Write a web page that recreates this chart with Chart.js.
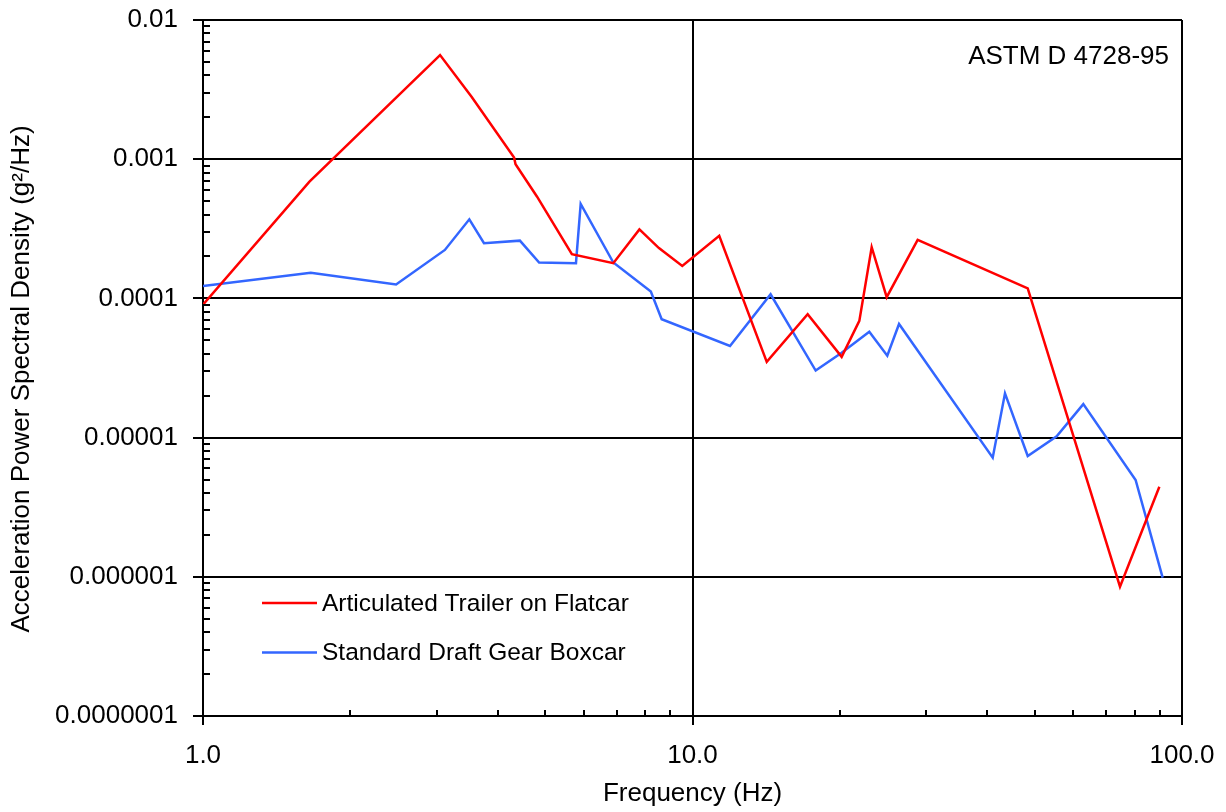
<!DOCTYPE html>
<html>
<head>
<meta charset="utf-8">
<script src="https://cdn.jsdelivr.net/npm/chart.js@4.4.0/dist/chart.umd.min.js"></script>
<style>
  html, body { margin: 0; padding: 0; background: #ffffff; }
  #wrap { width: 1226px; height: 812px; position: relative; }
</style>
</head>
<body>
<div id="wrap"><canvas id="c" width="1226" height="812"></canvas></div>
<script>
// ---- Data ----
const trailerFreq = [1.0, 1.65, 3.05, 3.54, 4.32, 4.35, 4.81, 5.67, 6.89, 7.79, 8.54, 9.53, 11.34, 14.18, 17.19, 20.17, 21.92, 23.23, 24.93, 28.84, 48.4, 74.7, 89.9];
const trailerPSD  = [9.0e-5, 6.9e-4, 5.6e-3, 2.8e-3, 1.03e-3, 9.2e-4, 5.4e-4, 2.08e-4, 1.79e-4, 3.13e-4, 2.3e-4, 1.71e-4, 2.82e-4, 3.5e-5, 7.7e-5, 3.8e-5, 6.9e-5, 2.33e-4, 1.02e-4, 2.63e-4, 1.18e-4, 8.5e-7, 4.44e-6];

const boxcarFreq = [1.0, 1.66, 2.48, 3.12, 3.50, 3.75, 4.44, 4.86, 5.78, 5.91, 6.89, 8.22, 8.65, 11.93, 14.44, 17.85, 20.17, 22.97, 25.0, 26.42, 41.05, 43.49, 48.4, 55.46, 62.86, 80.4, 91.3];
const boxcarPSD  = [1.23e-4, 1.53e-4, 1.26e-4, 2.23e-4, 3.70e-4, 2.49e-4, 2.60e-4, 1.81e-4, 1.79e-4, 4.77e-4, 1.81e-4, 1.12e-4, 7.08e-5, 4.55e-5, 1.07e-4, 3.03e-5, 4.07e-5, 5.77e-5, 3.88e-5, 6.55e-5, 7.18e-6, 2.08e-5, 7.38e-6, 1.02e-5, 1.74e-5, 4.96e-6, 9.86e-7];

const seriesNames = ['Articulated Trailer on Flatcar', 'Standard Draft Gear Boxcar'];

const xTickValues = [1, 10, 100];
const xTickLabels = ['1.0', '10.0', '100.0'];
const yTickValues = [1e-7, 1e-6, 1e-5, 1e-4, 1e-3, 1e-2];
const yTickLabels = ['0.0000001', '0.000001', '0.00001', '0.0001', '0.001', '0.01'];

const xTitle = 'Frequency (Hz)';
const yTitle = 'Acceleration Power Spectral Density (g\u00B2/Hz)';
const noteText = 'ASTM D 4728-95';

// ---- Styling ----
const FONT = '"Liberation Sans", Arial, sans-serif';
const FS = 26;
const FS_LEGEND = 24.5;
const RED = '#ff0000';
const BLUE = '#3366ff';

const toPoints = (xs, ys) => xs.map((x, i) => ({ x: x, y: ys[i] }));

const extras = {
  id: 'extras',
  afterDraw(chart) {
    const ctx = chart.ctx;
    const xs = chart.scales.x, ys = chart.scales.y;
    const ca = chart.chartArea;
    ctx.save();
    ctx.strokeStyle = '#000';
    ctx.lineWidth = 2;
    // minor ticks on y axis (inside)
    for (let e = -7; e < -2; e++) {
      for (let m = 2; m <= 9; m++) {
        const py = Math.round(ys.getPixelForValue(m * Math.pow(10, e)));
        ctx.beginPath();
        ctx.moveTo(ca.left, py);
        ctx.lineTo(ca.left + 7, py);
        ctx.stroke();
      }
    }
    // minor ticks on x axis (inside)
    for (let e = 0; e < 2; e++) {
      for (let m = 2; m <= 9; m++) {
        const px = Math.round(xs.getPixelForValue(m * Math.pow(10, e)));
        ctx.beginPath();
        ctx.moveTo(px, ca.bottom);
        ctx.lineTo(px, ca.bottom - 6);
        ctx.stroke();
      }
    }
    // legend inside plot
    ctx.font = FS_LEGEND + 'px ' + FONT;
    ctx.textBaseline = 'middle';
    ctx.textAlign = 'left';
    chart.data.datasets.forEach((ds, i) => {
      const y = 603 + i * 49.5;
      ctx.strokeStyle = ds.borderColor;
      ctx.lineWidth = 2.5;
      ctx.beginPath();
      ctx.moveTo(262, y);
      ctx.lineTo(317, y);
      ctx.stroke();
      ctx.fillStyle = '#000';
      ctx.fillText(ds.label, 322, y + 1);
    });
    // note text
    ctx.font = FS + 'px ' + FONT;
    ctx.textAlign = 'right';
    ctx.textBaseline = 'alphabetic';
    ctx.fillText(noteText, 1169, 64);
    // y title
    ctx.save();
    ctx.translate(29, 379);
    ctx.rotate(-Math.PI / 2);
    ctx.textAlign = 'center';
    ctx.textBaseline = 'alphabetic';
    ctx.fillText(yTitle, 0, 0);
    ctx.restore();
    ctx.restore();
  }
};

new Chart(document.getElementById('c'), {
  type: 'line',
  data: {
    datasets: [
      { label: seriesNames[0], data: toPoints(trailerFreq, trailerPSD), borderColor: RED, backgroundColor: RED, borderWidth: 2.5, pointRadius: 0, tension: 0, fill: false },
      { label: seriesNames[1], data: toPoints(boxcarFreq, boxcarPSD), borderColor: BLUE, backgroundColor: BLUE, borderWidth: 2.5, pointRadius: 0, tension: 0, fill: false }
    ]
  },
  options: {
    responsive: false,
    animation: false,
    parsing: false,
    layout: { padding: { top: 20, right: 44, left: 0, bottom: 0 } },
    plugins: { legend: { display: false }, tooltip: { enabled: false } },
    scales: {
      x: {
        type: 'logarithmic',
        min: 1, max: 100,
        afterBuildTicks: s => { s.ticks = xTickValues.map(v => ({ value: v })); },
        afterFit: s => { s.height = 96; s.paddingLeft = 0; s.paddingRight = 0; },
        ticks: {
          callback: (v, i) => xTickLabels[i],
          color: '#000', font: { family: FONT, size: FS }, padding: 15,
          maxRotation: 0, autoSkip: false
        },
        grid: { color: '#000', lineWidth: 2, tickLength: 9, drawTicks: true },
        border: { color: '#000', width: 2 },
        title: { display: true, text: xTitle, color: '#000', font: { family: FONT, size: FS }, padding: { top: 0, bottom: 3 } }
      },
      y: {
        type: 'logarithmic',
        min: 1e-7, max: 1e-2,
        afterBuildTicks: s => { s.ticks = yTickValues.map(v => ({ value: v })); },
        afterFit: s => { s.width = 203; s.paddingTop = 0; s.paddingBottom = 0; },
        ticks: {
          callback: (v, i) => yTickLabels[i],
          color: '#000', font: { family: FONT, size: FS }, padding: 15, autoSkip: false
        },
        grid: { color: '#000', lineWidth: 2, tickLength: 10, drawTicks: true },
        border: { color: '#000', width: 2 }
      }
    }
  },
  plugins: [extras]
});
</script>
</body>
</html>
